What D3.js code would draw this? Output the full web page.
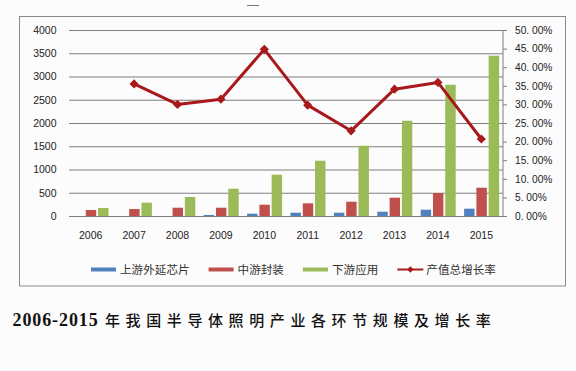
<!DOCTYPE html>
<html>
<head>
<meta charset="utf-8">
<script src="https://cdn.jsdelivr.net/npm/d3@7"></script>
<style>
  html, body { margin: 0; padding: 0; background: #fdfcfc; }
  svg { display: block; }
</style>
</head>
<body>
<svg id="chart" width="576" height="371"></svg>
<script>
// ---- data ----
const years = ["2006","2007","2008","2009","2010","2011","2012","2013","2014","2015"];
const seriesNames = ["上游外延芯片","中游封装","下游应用"];
const upstream   = [0, 0, 0, 22, 50, 71, 71, 92, 135, 157];
const midstream  = [129, 150, 178, 178, 243, 273, 307, 393, 494, 608];
const downstream = [172, 286, 409, 587, 888, 1189, 1511, 2049, 2823, 3447];
const growthName = "产值总增长率";
const growth = [null, 0.355, 0.300, 0.314, 0.448, 0.298, 0.229, 0.341, 0.359, 0.207];
const leftTicks = [0, 500, 1000, 1500, 2000, 2500, 3000, 3500, 4000];
const rightTicks = [0, 0.05, 0.10, 0.15, 0.20, 0.25, 0.30, 0.35, 0.40, 0.45, 0.50];
const titleYears = "2006-2015";
const titleText = "年我国半导体照明产业各环节规模及增长率";

const seriesValues = [upstream, midstream, downstream];
const colors = ["#4f81bd", "#c0504d", "#9bbb59"];
const lineColor = "#a8191c";

const svg = d3.select("#chart");

// small mark at top
svg.append("line").attr("x1", 247).attr("x2", 259).attr("y1", 5.5).attr("y2", 5.5)
  .attr("stroke", "#777").attr("stroke-width", 1);

// frame
svg.append("rect").attr("x", 19.5).attr("y", 16.5).attr("width", 546).attr("height", 269.5)
  .attr("fill", "none").attr("stroke", "#8a8a8a").attr("stroke-width", 1);

const plot = { left: 69, right: 503, top: 30, bottom: 216 };

const x = d3.scaleBand().domain(years).range([plot.left, plot.right]).padding(0);
const x1 = d3.scaleBand().domain(seriesNames).range([4.5, 39.5]).paddingInner(0.15).paddingOuter(0);
const yL = d3.scaleLinear().domain([0, 4000]).range([plot.bottom, plot.top]);
const yR = d3.scaleLinear().domain([0, 0.5]).range([plot.bottom, plot.top]);

const fontAxis = "'Liberation Sans', Arial, sans-serif";

// gridlines + left axis (no domain line)
const gLeft = svg.append("g").attr("transform", `translate(${plot.left},0)`)
  .call(d3.axisLeft(yL).tickValues(leftTicks).tickSize(-(plot.right - plot.left)).tickPadding(12.5).tickFormat(d3.format("d")));
gLeft.select(".domain").remove();
gLeft.selectAll(".tick line").attr("stroke", "#7f7f7f").attr("stroke-width", 1);
gLeft.selectAll(".tick text").attr("font-family", fontAxis).attr("font-size", 10.5).attr("fill", "#222");

// right axis
const fmtPct = v => {
  const s = (v * 100).toFixed(2);
  const [a, b] = s.split(".");
  return a + ". " + b + "%";
};
const gRight = svg.append("g").attr("transform", `translate(${plot.right},0)`)
  .call(d3.axisRight(yR).tickValues(rightTicks).tickSize(4).tickPadding(8).tickFormat(fmtPct));
gRight.select(".domain").attr("stroke", "#7f7f7f").attr("d", `M0,${plot.top}V${plot.bottom}`);
gRight.selectAll(".tick line").attr("stroke", "#7f7f7f");
gRight.selectAll(".tick text").attr("font-family", fontAxis).attr("font-size", 10.2).attr("fill", "#222");

// bottom axis labels
const gBottom = svg.append("g").attr("transform", `translate(0,${plot.bottom})`)
  .call(d3.axisBottom(x).tickSize(0).tickPadding(16));
gBottom.select(".domain").remove();
gBottom.selectAll(".tick text").attr("font-family", fontAxis).attr("font-size", 10.5).attr("fill", "#222");

// bars
seriesNames.forEach((name, si) => {
  svg.append("g").selectAll("rect")
    .data(years.map((yr, i) => ({ yr, v: seriesValues[si][i] })))
    .join("rect")
    .attr("x", d => x(d.yr) + x1(name))
    .attr("width", x1.bandwidth())
    .attr("y", d => yL(d.v))
    .attr("height", d => yL(0) - yL(d.v))
    .attr("fill", colors[si]);
});

// line
const lineData = years.map((yr, i) => ({ yr, v: growth[i] })).filter(d => d.v !== null);
const line = d3.line().x(d => x(d.yr) + x.bandwidth() / 2).y(d => yR(d.v));
svg.append("path").datum(lineData).attr("d", line)
  .attr("fill", "none").attr("stroke", lineColor).attr("stroke-width", 3).attr("stroke-linejoin", "round");
const diamond = (cx, cy, r) => `M${cx},${cy - r}L${cx + r},${cy}L${cx},${cy + r}L${cx - r},${cy}Z`;
svg.append("g").selectAll("path").data(lineData).join("path")
  .attr("d", d => diamond(x(d.yr) + x.bandwidth() / 2, yR(d.v), 4.6))
  .attr("fill", lineColor);

// legend
const fontCJK = "'Noto Sans CJK SC', 'Noto Sans', sans-serif";
const legY = 269.5;
const leg = svg.append("g");
let lx = 91;
const legendItems = seriesNames.map((n, i) => ({ name: n, color: colors[i], type: "bar" }))
  .concat([{ name: growthName, color: lineColor, type: "line" }]);
legendItems.forEach(item => {
  if (item.type === "bar") {
    leg.append("rect").attr("x", lx).attr("y", legY - 2).attr("width", 25).attr("height", 4).attr("fill", item.color);
  } else {
    leg.append("line").attr("x1", lx).attr("x2", lx + 26).attr("y1", legY).attr("y2", legY)
      .attr("stroke", item.color).attr("stroke-width", 2);
    leg.append("path").attr("d", diamond(lx + 13, legY, 3.2)).attr("fill", item.color);
  }
  const t = leg.append("text").attr("x", lx + 29).attr("y", legY).attr("dy", "0.36em")
    .attr("font-family", fontCJK).attr("font-size", 11.6).attr("fill", "#333").text(item.name);
  lx += 29 + t.node().getComputedTextLength() + 19;
});

// title
const title = svg.append("text").attr("x", 12.5).attr("y", 326).attr("fill", "#111");
title.append("tspan").attr("font-family", "'Liberation Serif', 'Times New Roman', serif")
  .attr("font-weight", "bold").attr("font-size", 18).attr("letter-spacing", 0.9).text(titleYears);
title.append("tspan").attr("x", 105).attr("font-family", fontCJK).attr("font-weight", 500)
  .attr("font-size", 15).attr("letter-spacing", 5.6).text(titleText);
</script>
</body>
</html>
